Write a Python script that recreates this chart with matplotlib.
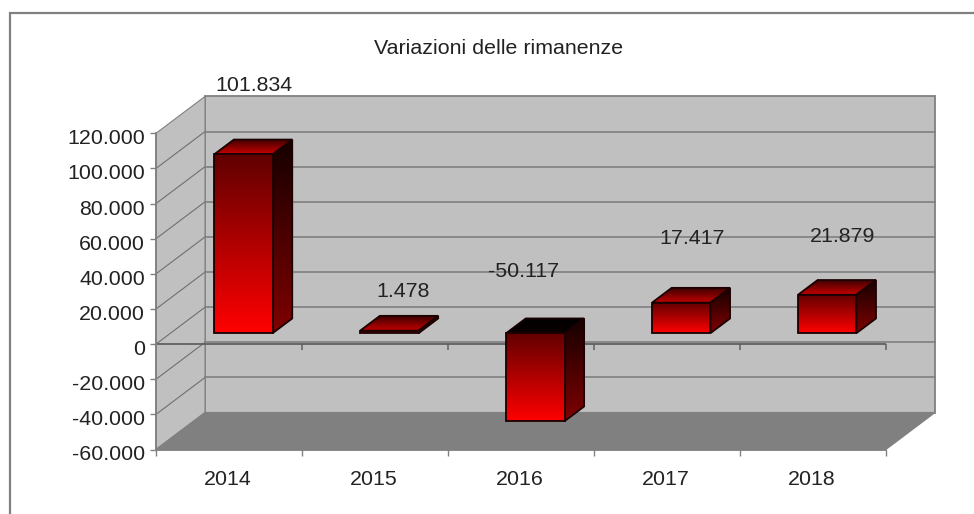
import numpy as np
import matplotlib
matplotlib.use("Agg")
import matplotlib.pyplot as plt
from matplotlib.colors import to_rgb
from matplotlib.patches import Polygon, Rectangle
from matplotlib.transforms import ScaledTranslation

plt.rcParams['font.family'] = ['Liberation Sans', 'DejaVu Sans']

years = ["2014", "2015", "2016", "2017", "2018"]
values = [101834, 1478, -50117, 17417, 21879]
value_labels = ["101.834", "1.478", "-50.117", "17.417", "21.879"]
y_ticks = [-60000, -40000, -20000, 0, 20000, 40000, 60000, 80000, 100000, 120000]
y_tick_labels = ["-60.000", "-40.000", "-20.000", "0", "20.000", "40.000", "60.000", "80.000", "100.000", "120.000"]

# label offsets in pixels: x from the bar centre, y from the zero line
label_dx = [11, 14, -12, 11, 15]
label_dy = [259, 53, 73, 106, 108]

W, H = 974, 514
grid_c = "#808080"
text_c = "#222222"
fs = 15.4

# depth of the fake 3d box, in data units
depth_x = 0.336
depth_y = 21000
bar_w = 0.4
bar_d0 = 0.295
bar_d1 = 0.695

fig = plt.figure(figsize=(W / 100, H / 100), dpi=100)
# outer frame, only left and top fall inside the picture
fig.add_artist(Rectangle((9.5 / W, -0.1), 1.1, 1.1 - 13.5 / H, transform=fig.transFigure,
                         fc="white", ec="#808080", lw=1.6, zorder=-1))
# front plane of the box: x 156..885.7 px, y 449.5..133.3 px
ax = fig.add_axes([156 / W, 1 - 449.5 / H, (885.7 - 156) / W, (449.5 - 133.3) / H])
ax.patch.set_visible(False)
ymin, ymax = y_ticks[0], y_ticks[-1]
n = len(years)


def gradient(ax, pts, c_top, c_bottom, zorder):
    # polygon filled with a vertical gradient
    pts = np.array(pts)
    poly = Polygon(pts, closed=True, fc="none", ec="#1a0000", lw=1.3, zorder=zorder + 0.1)
    ax.add_patch(poly)
    t = np.linspace(0, 1, 256)[:, None, None]
    img = (1 - t) * np.array(to_rgb(c_bottom)) + t * np.array(to_rgb(c_top))
    im = ax.imshow(img, origin="lower", aspect="auto", zorder=zorder,
                   extent=[pts[:, 0].min(), pts[:, 0].max(), pts[:, 1].min(), pts[:, 1].max()])
    im.set_clip_path(poly)


# walls and floor
ax.add_patch(Polygon([(depth_x, ymin + depth_y), (n + depth_x, ymin + depth_y), (n + depth_x, ymax + depth_y), (depth_x, ymax + depth_y)],
                     fc="#c0c0c0", ec=grid_c, lw=1.3, zorder=1, clip_on=False))
ax.add_patch(Polygon([(0, ymin), (depth_x, ymin + depth_y), (depth_x, ymax + depth_y), (0, ymax)],
                     fc="#c0c0c0", ec=grid_c, lw=0.8, zorder=1, clip_on=False))
ax.add_patch(Polygon([(0, ymin), (n, ymin), (n + depth_x, ymin + depth_y), (depth_x, ymin + depth_y)],
                     fc="#808080", ec="#808080", lw=1.0, zorder=1.2, clip_on=False))
for t in y_ticks[1:-1]:
    ax.plot([0, depth_x], [t, t + depth_y], color="#707070", lw=0.8, zorder=1.1, clip_on=False)
    ax.plot([depth_x, n + depth_x], [t + depth_y, t + depth_y], color=grid_c, lw=1.2, zorder=1.1, clip_on=False)

# zero line with its ticks
ax.plot([0, n], [0, 0], color="#606060", lw=1.3, zorder=1.5)
ax.plot(np.arange(n + 1), np.zeros(n + 1), ls="none", marker=3, ms=4, mew=1.1, color="#606060", zorder=1.5)

for i, v in enumerate(values):
    x0 = i + 0.5 - bar_w / 2 + bar_d0 * depth_x
    x1 = x0 + bar_w
    base = bar_d0 * depth_y
    dx = (bar_d1 - bar_d0) * depth_x
    dy = (bar_d1 - bar_d0) * depth_y
    hi = max(base, base + v)
    lo = min(base, base + v)
    # negative bars have a darker lid
    if v < 0:
        lid = ("#000000", "#0a0000")
    else:
        lid = ("#400000", "#c80000")
    gradient(ax, [(x0, hi), (x1, hi), (x1 + dx, hi + dy), (x0 + dx, hi + dy)], lid[0], lid[1], 3)
    gradient(ax, [(x1, lo), (x1 + dx, lo + dy), (x1 + dx, hi + dy), (x1, hi)], "#150000", "#800000", 3)
    gradient(ax, [(x0, lo), (x1, lo), (x1, hi), (x0, hi)], "#600000", "#ff0000", 3.5)
    ax.annotate(value_labels[i], xy=((x0 + x1) / 2, 0), xycoords="data",
                xytext=(label_dx[i] * 0.72, label_dy[i] * 0.72), textcoords="offset points",
                fontsize=fs, color=text_c, ha="center", va="center", zorder=5, annotation_clip=False)

ax.set_xlim(0, n)
ax.set_ylim(ymin, ymax)
ax.set_yticks(y_ticks)
ax.set_yticklabels(y_tick_labels, fontsize=fs, color=text_c)
ax.set_xticks(np.arange(n + 1))
ax.set_xticklabels([])
ax.set_xticks(np.arange(n) + 0.494, minor=True)
ax.set_xticklabels(years, minor=True, fontsize=fs, color=text_c)
ax.tick_params(axis="y", length=4.3, width=1, color=grid_c, pad=3.5)
ax.tick_params(axis="x", which="major", length=4.3, width=1, color=grid_c)
ax.tick_params(axis="x", which="minor", length=0, pad=14.5)
# y labels sit a little under their ticks in the original
down = ScaledTranslation(0, -3.5 / 100, fig.dpi_scale_trans)
for lab in ax.get_yticklabels():
    lab.set_transform(lab.get_transform() + down)
for s in ["top", "right"]:
    ax.spines[s].set_visible(False)
for s in ["left", "bottom"]:
    ax.spines[s].set_color(grid_c)
    ax.spines[s].set_linewidth(1.3)

fig.text(498.5 / W, 1 - 49 / H, "Variazioni delle rimanenze", fontsize=fs, color=text_c, ha="center", va="center")
fig.savefig("out.png", dpi=100)
